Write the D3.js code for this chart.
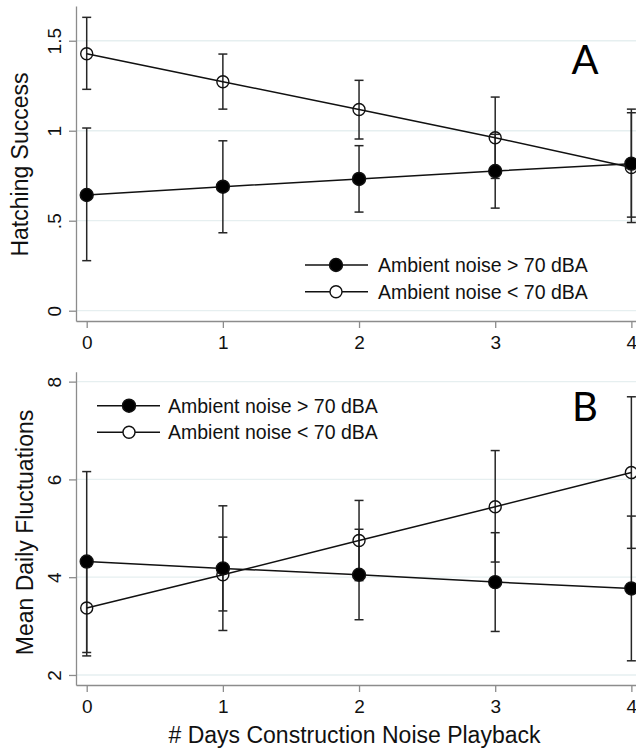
<!DOCTYPE html>
<html>
<head>
<meta charset="utf-8">
<script src="https://cdn.jsdelivr.net/npm/d3@7"></script>
<style>
  body { margin: 0; background: #fff; }
  svg { display: block; font-family: "Liberation Sans", Arial, sans-serif; }
</style>
</head>
<body>
<div id="chart"></div>
<script>
// ************************** data **************************
const days = [0, 1, 2, 3, 4];
const seriesNames = ["Ambient noise > 70 dBA", "Ambient noise < 70 dBA"];

// panel A : hatching success
const hatchHigh = [0.643, 0.689, 0.732, 0.776, 0.817];
const hatchHighLo = [0.278, 0.433, 0.548, 0.57, 0.52];
const hatchHighHi = [1.015, 0.944, 0.917, 0.98, 1.12];
const hatchLow = [1.428, 1.272, 1.118, 0.961, 0.796];
const hatchLowLo = [1.23, 1.12, 0.954, 0.735, 0.49];
const hatchLowHi = [1.63, 1.426, 1.28, 1.187, 1.1];
const hatchTicks = [0, 0.5, 1, 1.5];
const hatchTickLabels = ["0", ".5", "1", "1.5"];

// panel B : mean daily fluctuations
const fluctHigh = [4.32, 4.18, 4.05, 3.9, 3.77];
const fluctHighLo = [2.46, 2.91, 3.13, 2.89, 2.29];
const fluctHighHi = [6.16, 5.46, 4.98, 4.91, 5.25];
const fluctLow = [3.37, 4.05, 4.75, 5.44, 6.14];
const fluctLowLo = [2.39, 3.31, 3.93, 4.31, 4.59];
const fluctLowHi = [4.33, 4.82, 5.57, 6.59, 7.69];
const fluctTicks = [2, 4, 6, 8];
const fluctTickLabels = ["2", "4", "6", "8"];

const width = 636;
const height = 753;

const svg = d3
  .select("#chart")
  .append("svg")
  .attr("width", width)
  .attr("height", height);

const xScale = d3.scaleLinear([-0.0786, 4.034], [76, 636]);

function drawPanel({
  yDomain,
  yRange,
  ticks,
  tickLabels,
  yLabel,
  yLabelX,
  yLabelY,
  letter,
  letterY,
  high,
  highLo,
  highHi,
  low,
  lowLo,
  lowHi,
  legendX, // [line start, marker, line end, text]
  legendY,
}) {
  const yScale = d3.scaleLinear(yDomain, yRange);
  const g = svg.append("g");

  // gridlines
  g.append("g")
    .selectAll("line")
    .data(ticks)
    .join("line")
    .attr("x1", 76)
    .attr("x2", width)
    .attr("y1", (d) => yScale(d))
    .attr("y2", (d) => yScale(d))
    .attr("stroke", "#e6eff0")
    .attr("stroke-width", 1.3);

  // y axis
  const yAxis = d3
    .axisLeft(yScale)
    .tickValues(ticks)
    .tickFormat((d, i) => tickLabels[i])
    .tickSize(7)
    .tickSizeOuter(0);
  g.append("g")
    .attr("transform", `translate(${xScale.range()[0]},0)`)
    .call(yAxis)
    .call((a) => a.select(".domain").attr("stroke", "#8c8c8c").attr("stroke-width", 1.3))
    .call((a) => a.selectAll(".tick line").attr("stroke", "#8c8c8c").attr("stroke-width", 1.3))
    .call((a) =>
      a
        .selectAll(".tick text")
        .attr("x", 0)
        .attr("y", -15)
        .attr("dy", 0)
        .attr("text-anchor", "middle")
        .attr("transform", "rotate(-90)")
        .attr("font-size", 19)
        .attr("font-family", "Liberation Sans, Arial, sans-serif")
        .attr("fill", "#111")
    );

  // x axis
  const xAxis = d3.axisBottom(xScale).tickValues(days).tickFormat(d3.format("d")).tickSize(7).tickSizeOuter(0);
  g.append("g")
    .attr("transform", `translate(0,${yRange[0]})`)
    .call(xAxis)
    .call((a) => a.select(".domain").attr("stroke", "#8c8c8c").attr("stroke-width", 1.3))
    .call((a) => a.selectAll(".tick line").attr("stroke", "#8c8c8c").attr("stroke-width", 1.3))
    .call((a) =>
      a
        .selectAll(".tick text")
        .attr("y", 28)
        .attr("dy", 0)
        .attr("font-size", 19)
        .attr("font-family", "Liberation Sans, Arial, sans-serif")
        .attr("fill", "#111")
    );

  // y label
  g.append("text")
    .attr("transform", `translate(${yLabelX},${yLabelY}) rotate(-90)`)
    .attr("text-anchor", "middle")
    .attr("font-size", 23)
    .attr("fill", "#111")
    .text(yLabel);

  // panel letter
  g.append("text")
    .attr("x", 585)
    .attr("y", letterY)
    .attr("text-anchor", "middle")
    .attr("font-family", "Lato, 'Open Sans', sans-serif")
    .attr("font-size", 40)
    .attr("fill", "#000")
    .text(letter);

  const series = [
    { name: seriesNames[0], v: high, lo: highLo, hi: highHi, filled: true },
    { name: seriesNames[1], v: low, lo: lowLo, hi: lowHi, filled: false },
  ];

  // error bars
  series.forEach((s) => {
    const eb = g
      .append("g")
      .attr("stroke", "#262626")
      .attr("stroke-width", 1.5)
      .selectAll("g")
      .data(days)
      .join("g");
    eb.append("line")
      .attr("x1", (d) => xScale(d))
      .attr("x2", (d) => xScale(d))
      .attr("y1", (d, i) => yScale(s.lo[i]))
      .attr("y2", (d, i) => yScale(s.hi[i]));
    eb.append("line")
      .attr("x1", (d) => xScale(d) - 4.5)
      .attr("x2", (d) => xScale(d) + 4.5)
      .attr("y1", (d, i) => yScale(s.lo[i]))
      .attr("y2", (d, i) => yScale(s.lo[i]));
    eb.append("line")
      .attr("x1", (d) => xScale(d) - 4.5)
      .attr("x2", (d) => xScale(d) + 4.5)
      .attr("y1", (d, i) => yScale(s.hi[i]))
      .attr("y2", (d, i) => yScale(s.hi[i]));
  });

  const line = d3
    .line()
    .x((d) => xScale(d[0]))
    .y((d) => yScale(d[1]));

  // lines + markers
  series
    .slice()
    .reverse()
    .forEach((s) => {
      g.append("path")
        .attr("fill", "none")
        .attr("stroke", "#111")
        .attr("stroke-width", 1.5)
        .attr("d", line(days.map((d, i) => [d, s.v[i]])));
    });
  series
    .slice()
    .reverse()
    .forEach((s) => {
      g.append("g")
        .selectAll("circle")
        .data(days)
        .join("circle")
        .attr("cx", (d) => xScale(d))
        .attr("cy", (d, i) => yScale(s.v[i]))
        .attr("r", s.filled ? 6.5 : 6)
        .attr("fill", s.filled ? "#000" : "none")
        .attr("stroke", "#111")
        .attr("stroke-width", 1.4);
    });

  // legend
  const leg = g
    .append("g")
    .selectAll("g")
    .data(series)
    .join("g")
    .attr("transform", (d, i) => `translate(0,${legendY[i]})`);
  leg.append("line")
    .attr("x1", legendX[0])
    .attr("x2", legendX[2])
    .attr("stroke", "#111")
    .attr("stroke-width", 1.5);
  leg.append("circle")
    .attr("cx", legendX[1])
    .attr("r", (d) => (d.filled ? 6.5 : 6))
    .attr("fill", (d) => (d.filled ? "#000" : "#fff"))
    .attr("stroke", "#111")
    .attr("stroke-width", 1.4);
  leg.append("text")
    .attr("x", legendX[3])
    .attr("y", 7)
    .attr("font-size", 19.5)
    .attr("fill", "#111")
    .text((d) => d.name);
}

drawPanel({
  yDomain: [-0.0572, 1.693],
  yRange: [321, 6],
  ticks: hatchTicks,
  tickLabels: hatchTickLabels,
  yLabel: "Hatching Success",
  yLabelX: 28,
  yLabelY: 164.5,
  letter: "A",
  letterY: 74,
  high: hatchHigh,
  highLo: hatchHighLo,
  highHi: hatchHighHi,
  low: hatchLow,
  lowLo: hatchLowLo,
  lowHi: hatchLowHi,
  legendX: [305, 336, 368, 378],
  legendY: [265, 291.7],
});

drawPanel({
  yDomain: [1.795, 8.203],
  yRange: [685, 371.7],
  ticks: fluctTicks,
  tickLabels: fluctTickLabels,
  yLabel: "Mean Daily Fluctuations",
  yLabelX: 33,
  yLabelY: 532.5,
  letter: "B",
  letterY: 421,
  high: fluctHigh,
  highLo: fluctHighLo,
  highHi: fluctHighHi,
  low: fluctLow,
  lowLo: fluctLowLo,
  lowHi: fluctLowHi,
  legendX: [97, 129, 160, 168],
  legendY: [405.7, 432.3],
});

// shared x label
svg
  .append("text")
  .attr("x", 354.5)
  .attr("y", 743)
  .attr("text-anchor", "middle")
  .attr("font-size", 23)
  .attr("fill", "#111")
  .text("# Days Construction Noise Playback");
</script>
</body>
</html>
